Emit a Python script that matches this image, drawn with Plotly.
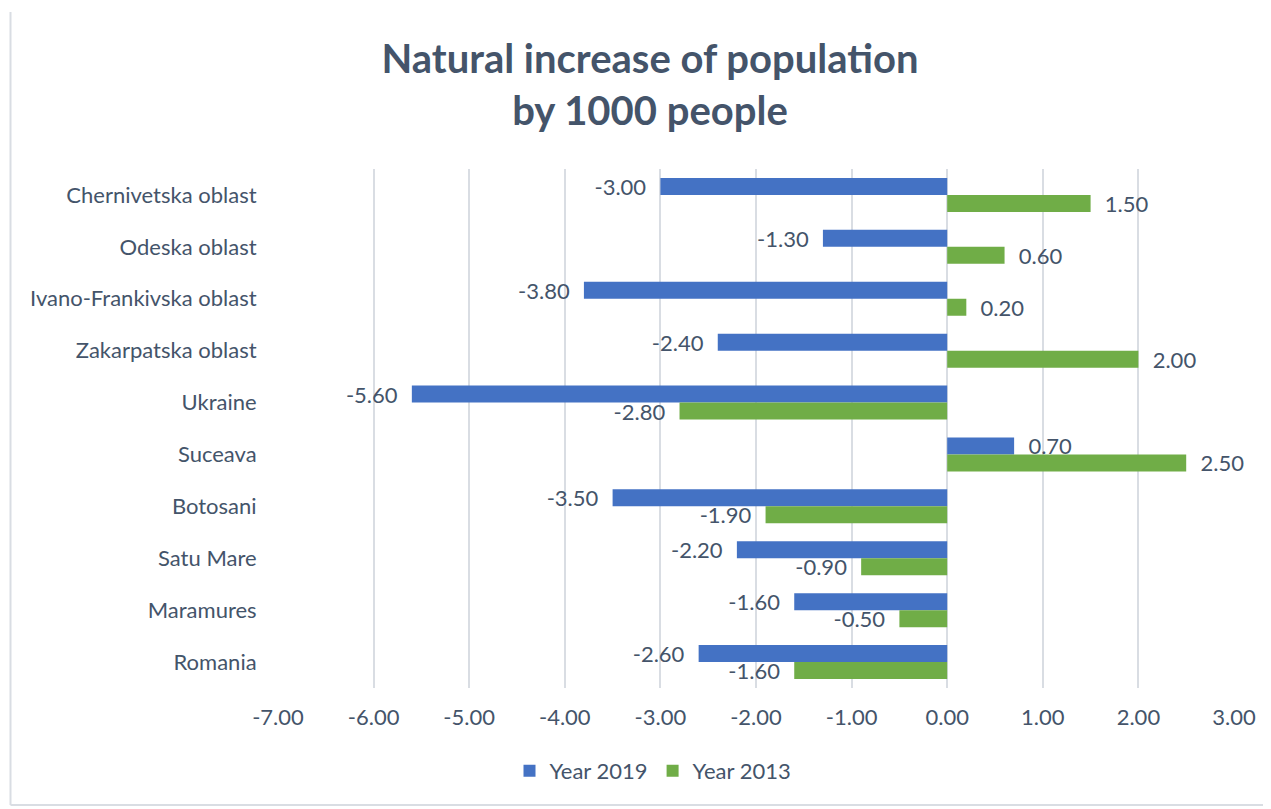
import plotly.graph_objects as go

categories = ["Chernivetska oblast", "Odeska oblast", "Ivano-Frankivska oblast",
              "Zakarpatska oblast", "Ukraine", "Suceava", "Botosani",
              "Satu Mare", "Maramures", "Romania"]
year_2019 = [-3.0, -1.3, -3.8, -2.4, -5.6, 0.7, -3.5, -2.2, -1.6, -2.6]
year_2013 = [1.5, 0.6, 0.2, 2.0, -2.8, 2.5, -1.9, -0.9, -0.5, -1.6]
x_ticks = [-7, -6, -5, -4, -3, -2, -1, 0, 1, 2, 3]
x_tick_labels = [f"{v:.2f}" for v in x_ticks]

TEXT = "#44546A"
GRID = "#D9DDE3"
FONT = "Lato"
PAD = "\u00a0\u00a0"

W, H = 1263, 801
L, R, T, B = 270, 37, 161, 121
PW, PH = W - L - R, H - T - B


def labels(values):
    return [f"{v:.2f}{PAD}" if v < 0 else f"{PAD}{v:.2f}" for v in values]


def px_x(p):
    return (p - L) / PW


def px_y(p):
    return (H - B - p) / PH


fig = go.Figure()
fig.add_trace(go.Bar(
    y=categories, x=year_2019, orientation="h", name="Year 2019",
    marker=dict(color="#4472C4", line=dict(width=0)),
    text=labels(year_2019), textposition="outside", constraintext="none",
    cliponaxis=False, textfont=dict(family=FONT, size=22, color=TEXT),
    hoverinfo="x+y",
))
fig.add_trace(go.Bar(
    y=categories, x=year_2013, orientation="h", name="Year 2013",
    marker=dict(color="#70AD47", line=dict(width=0)),
    text=labels(year_2013), textposition="outside", constraintext="none",
    cliponaxis=False, textfont=dict(family=FONT, size=22, color=TEXT),
    hoverinfo="x+y",
))

fig.update_layout(
    width=W, height=H,
    margin=dict(l=L, r=R, t=T, b=B),
    paper_bgcolor="white", plot_bgcolor="white",
    barmode="group", bargap=0.345, bargroupgap=0,
    font=dict(family=FONT, color=TEXT, size=22),
    title=dict(
        text="<b>Natural increase of population<br>by 1000 people</b>",
        x=642 / W, xanchor="center", xref="container",
        y=1 - 65 / H, yanchor="middle", yref="container",
        font=dict(family=FONT, size=40, color=TEXT),
    ),
    xaxis=dict(
        range=[-7, 3], tickvals=x_ticks, ticktext=x_tick_labels,
        showgrid=True, gridcolor=GRID, gridwidth=2,
        zeroline=True, zerolinecolor=GRID, zerolinewidth=2,
        showline=False, ticks="outside", ticklen=10, tickcolor="rgba(0,0,0,0)",
        tickfont=dict(family=FONT, size=22, color=TEXT),
        fixedrange=True,
    ),
    yaxis=dict(
        autorange="reversed", showgrid=False, zeroline=False, showline=False,
        ticks="outside", ticklen=16, tickcolor="rgba(0,0,0,0)",
        tickfont=dict(family=FONT, size=22, color=TEXT),
        fixedrange=True,
    ),
    legend=dict(
        orientation="h", x=px_x(645), xanchor="center",
        y=px_y(763), yanchor="middle",
        font=dict(family=FONT, size=22, color=TEXT),
        itemwidth=30, traceorder="normal",
    ),
    shapes=[
        dict(type="line", xref="paper", yref="paper",
             x0=px_x(2.5), x1=px_x(2.5), y0=px_y(4), y1=px_y(797),
             line=dict(color=GRID, width=2)),
        dict(type="line", xref="paper", yref="paper",
             x0=px_x(2.5), x1=px_x(W), y0=px_y(797), y1=px_y(797),
             line=dict(color=GRID, width=2)),
    ],
)

fig.write_html("out.html")
